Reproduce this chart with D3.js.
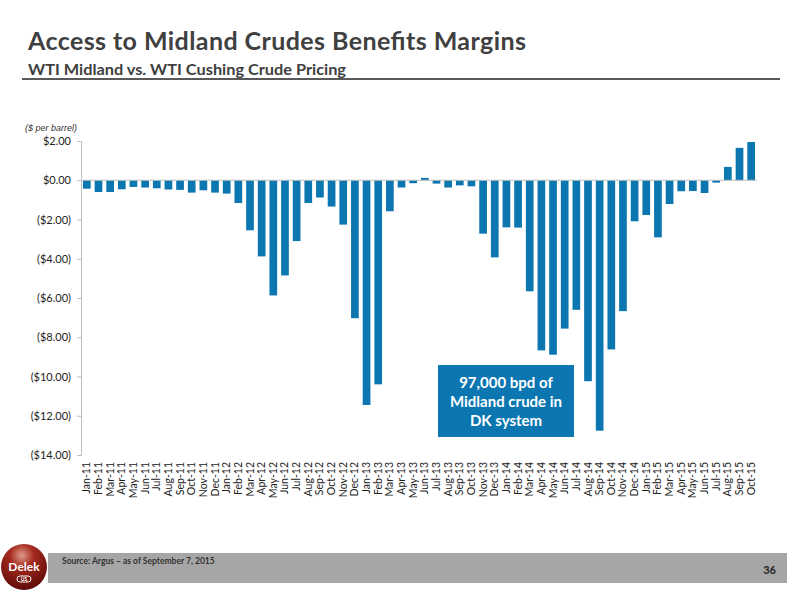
<!DOCTYPE html>
<html>
<head>
<meta charset="utf-8">
<script src="https://cdn.jsdelivr.net/npm/d3@7"></script>
<style>
  body { margin: 0; background: #fff; }
  text { font-family: Lato, "Open Sans", sans-serif; }
</style>
</head>
<body>
<div id="chart"></div>
<script>
const w = 800;
const h = 600;

// monthly spread, WTI Midland minus WTI Cushing ($/bbl)
const months = [
  'Jan-11','Feb-11','Mar-11','Apr-11','May-11','Jun-11','Jul-11','Aug-11','Sep-11','Oct-11','Nov-11','Dec-11',
  'Jan-12','Feb-12','Mar-12','Apr-12','May-12','Jun-12','Jul-12','Aug-12','Sep-12','Oct-12','Nov-12','Dec-12',
  'Jan-13','Feb-13','Mar-13','Apr-13','May-13','Jun-13','Jul-13','Aug-13','Sep-13','Oct-13','Nov-13','Dec-13',
  'Jan-14','Feb-14','Mar-14','Apr-14','May-14','Jun-14','Jul-14','Aug-14','Sep-14','Oct-14','Nov-14','Dec-14',
  'Jan-15','Feb-15','Mar-15','Apr-15','May-15','Jun-15','Jul-15','Aug-15','Sep-15','Oct-15'
];
const spread = [
  -0.43, -0.60, -0.60, -0.46, -0.34, -0.37, -0.41, -0.47, -0.49, -0.63, -0.51, -0.63,
  -0.68, -1.16, -2.55, -3.88, -5.87, -4.85, -3.10, -1.16, -0.88, -1.34, -2.26, -7.03,
  -11.45, -10.40, -1.58, -0.37, -0.15, 0.12, -0.17, -0.37, -0.26, -0.31, -2.72, -3.93,
  -2.40, -2.41, -5.66, -8.67, -8.89, -7.56, -6.60, -10.24, -12.76, -8.62, -6.67, -2.09,
  -1.77, -2.91, -1.21, -0.56, -0.55, -0.65, -0.12, 0.68, 1.65, 1.95
];
const yTicks = [2, 0, -2, -4, -6, -8, -10, -12, -14];
const noteLines = ['97,000 bpd of', 'Midland crude in', 'DK system'];

const blue = '#0b76b0';

const svg = d3.select('#chart')
  .append('svg')
  .attr('width', w)
  .attr('height', h);

// heading
svg.append('text')
  .attr('x', 28).attr('y', 50)
  .attr('textLength', 498)
  .style('font-size', '25px').style('font-weight', 'bold')
  .style('fill', '#404040')
  .text('Access to Midland Crudes Benefits Margins');

svg.append('text')
  .attr('x', 28).attr('y', 75)
  .attr('textLength', 318)
  .attr('lengthAdjust', 'spacingAndGlyphs')
  .style('font-size', '15px').style('font-weight', 'bold')
  .style('fill', '#404040')
  .text('WTI Midland vs. WTI Cushing Crude Pricing');

svg.append('line')
  .attr('x1', 22).attr('x2', 780)
  .attr('y1', 79).attr('y2', 79)
  .style('stroke', '#595959').style('stroke-width', 2);

// scales
const x = d3.scaleBand()
  .domain(months)
  .range([81, 757])
  .paddingInner(0.34)
  .paddingOuter(0.17);

const y = d3.scaleLinear()
  .domain([-14, 2])
  .range([455, 141]);

// y axis
const yAxis = svg.append('g')
  .attr('transform', 'translate(81,0)')
  .call(d3.axisLeft(y)
    .tickValues(yTicks)
    .tickSize(4)
    .tickPadding(6)
    .tickFormat(d => d < 0 ? '($' + d3.format('.2f')(-d) + ')' : '$' + d3.format('.2f')(d)));

yAxis.select('.domain').style('stroke', '#bfbfbf');
yAxis.selectAll('.tick line').style('stroke', '#bfbfbf');
yAxis.selectAll('.tick text')
  .style('font-size', '11px')
  .style('fill', '#222')
  .style('font-family', 'Lato, sans-serif');

svg.append('text')
  .attr('x', 77).attr('y', 131)
  .attr('text-anchor', 'end')
  .style('font-size', '9px').style('font-style', 'italic')
  .style('font-family', '"Liberation Sans", Arial, sans-serif')
  .style('fill', '#333')
  .text('($ per barrel)');

// bars
svg.selectAll('.bar')
  .data(months)
  .enter()
  .append('rect')
  .attr('class', 'bar')
  .attr('x', d => x(d))
  .attr('width', x.bandwidth())
  .attr('y', (d, i) => y(Math.max(0, spread[i])))
  .attr('height', (d, i) => Math.abs(y(spread[i]) - y(0)))
  .style('fill', blue);

// zero line
svg.append('line')
  .attr('x1', 81).attr('x2', 757)
  .attr('y1', y(0)).attr('y2', y(0))
  .style('stroke', '#bfbfbf');

// month labels
svg.selectAll('.month')
  .data(months)
  .enter()
  .append('text')
  .attr('class', 'month')
  .attr('transform', d => 'translate(' + (x(d) + x.bandwidth() / 2 + 3.5) + ',462) rotate(-90)')
  .attr('text-anchor', 'end')
  .style('font-size', '10.5px')
  .style('fill', '#222')
  .text(d => d);

// note box
svg.append('rect')
  .attr('x', 438).attr('y', 365)
  .attr('width', 136).attr('height', 72)
  .style('fill', blue);

svg.selectAll('.note')
  .data(noteLines)
  .enter()
  .append('text')
  .attr('class', 'note')
  .attr('x', 506)
  .attr('y', (d, i) => 388 + i * 19)
  .attr('text-anchor', 'middle')
  .style('font-size', '15px').style('font-weight', 'bold')
  .style('fill', '#fff')
  .text(d => d);

// footer
svg.append('rect')
  .attr('x', 48).attr('y', 553)
  .attr('width', 739).attr('height', 30)
  .style('fill', '#a6a6a6');

svg.append('text')
  .attr('x', 62).attr('y', 564)
  .style('font-size', '8.5px').style('font-weight', 'bold')
  .style('fill', '#333')
  .text('Source:  Argus – as of September 7, 2015');

svg.append('text')
  .attr('x', 776).attr('y', 574)
  .attr('text-anchor', 'end')
  .style('font-size', '11px').style('font-weight', 'bold')
  .style('fill', '#222')
  .text('36');

// logo
const grad = svg.append('defs').append('radialGradient')
  .attr('id', 'logoGrad')
  .attr('cx', '45%').attr('cy', '25%').attr('r', '75%');
grad.append('stop').attr('offset', '0%').attr('stop-color', '#e09a8a');
grad.append('stop').attr('offset', '35%').attr('stop-color', '#a32a1e');
grad.append('stop').attr('offset', '100%').attr('stop-color', '#5e0a08');

svg.append('circle')
  .attr('cx', 24).attr('cy', 567).attr('r', 23)
  .style('fill', 'url(#logoGrad)');

svg.append('text')
  .attr('x', 24).attr('y', 571)
  .attr('text-anchor', 'middle')
  .style('font-size', '12px').style('font-weight', 'bold')
  .style('fill', '#fff')
  .text('Delek');

svg.append('rect')
  .attr('x', 17).attr('y', 576)
  .attr('width', 14).attr('height', 6).attr('rx', 3)
  .style('fill', '#7a1410').style('stroke', '#fff').style('stroke-width', 1);

svg.append('text')
  .attr('x', 24).attr('y', 581)
  .attr('text-anchor', 'middle')
  .style('font-size', '5px').style('font-weight', 'bold')
  .style('fill', '#fff')
  .text('US');
</script>
</body>
</html>
